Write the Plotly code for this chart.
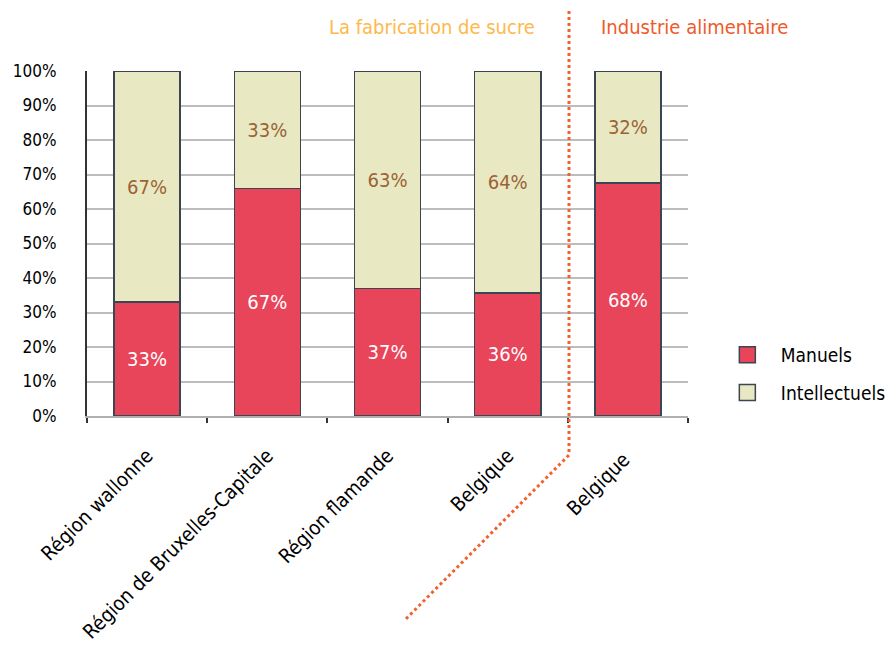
import plotly.graph_objects as go

categories = ["Région wallonne", "Région de Bruxelles-Capitale", "Région flamande", "Belgique", "Belgique "]
manuels = [33, 66, 37, 35.7, 67.5]
intellectuels = [67, 34, 63, 64.3, 32.5]
manuels_labels = ["33%", "67%", "37%", "36%", "68%"]
intellectuels_labels = ["67%", "33%", "63%", "64%", "32%"]
y_ticks = [0, 10, 20, 30, 40, 50, 60, 70, 80, 90, 100]
y_ticklabels = [f"{v}%" for v in y_ticks]

FONT = "DejaVu Sans Condensed"
RED = "#E8445A"
CREAM = "#E8E9C2"
EDGE = "#3C4552"

fig = go.Figure()
fig.add_trace(go.Bar(
    x=categories, y=manuels, name="Manuels", marker=dict(color=RED, line=dict(color=EDGE, width=1.5)),
    text=manuels_labels, textposition="inside", insidetextanchor="middle",
    textfont=dict(color="white", size=20, family=FONT), showlegend=False, width=0.55,
))
fig.add_trace(go.Bar(
    x=categories, y=intellectuels, name="Intellectuels", marker=dict(color=CREAM, line=dict(color=EDGE, width=1.5)),
    text=intellectuels_labels, textposition="inside", insidetextanchor="middle",
    textfont=dict(color="#9B6335", size=20, family=FONT), showlegend=False, width=0.55,
))
# legend entries
for name, col in [("Manuels", RED), ("Intellectuels", CREAM)]:
    fig.add_trace(go.Scatter(
        x=[None], y=[None], mode="markers", name=name, legendgroup=name,
        marker=dict(symbol="square", size=20, color=col, line=dict(color=EDGE, width=1.5)),
    ))

fig.update_layout(
    width=896, height=647,
    barmode="stack",
    plot_bgcolor="white", paper_bgcolor="white",
    margin=dict(l=79, r=216, t=63, b=239, autoexpand=False),
    font=dict(family=FONT, size=19, color="black"),
    legend=dict(x=1.043, y=0.122, xanchor="left", yanchor="middle", font=dict(size=19),
                traceorder="grouped", itemwidth=57, tracegroupgap=10, bgcolor="rgba(0,0,0,0)"),
    xaxis=dict(tickangle=-45, showline=True, linecolor="#B0B0B0", linewidth=2, automargin=False,
               ticks="outside", tickson="boundaries", ticklen=5, tickcolor="#333", tickwidth=1.5,
               ticklabelstandoff=18, tickfont=dict(size=20)),
    yaxis=dict(range=[0, 100], tickvals=y_ticks, ticktext=y_ticklabels, showgrid=True, automargin=False,
               gridcolor="#BDBDBD", gridwidth=2, showline=True, linecolor="#333", linewidth=2,
               ticklabelstandoff=25, tickfont=dict(size=17), zeroline=False),
    shapes=[
        dict(type="path", xref="paper", yref="paper",
             path="M 0.802,1.191 L 0.802,-0.113 L 0.529,-0.591",
             line=dict(color="#F0622E", width=3, dash="dot")),
    ],
    annotations=[
        dict(text="La fabrication de sucre", x=0.574, y=1.128, xref="paper", yref="paper",
             xanchor="center", yanchor="middle",
             showarrow=False, font=dict(color="#FDB94B", size=20, family=FONT)),
        dict(text="Industrie alimentaire", x=1.01, y=1.128, xref="paper", yref="paper",
             xanchor="center", yanchor="middle",
             showarrow=False, font=dict(color="#F05A28", size=20, family=FONT)),
    ],
)

fig.write_html("out.html")
